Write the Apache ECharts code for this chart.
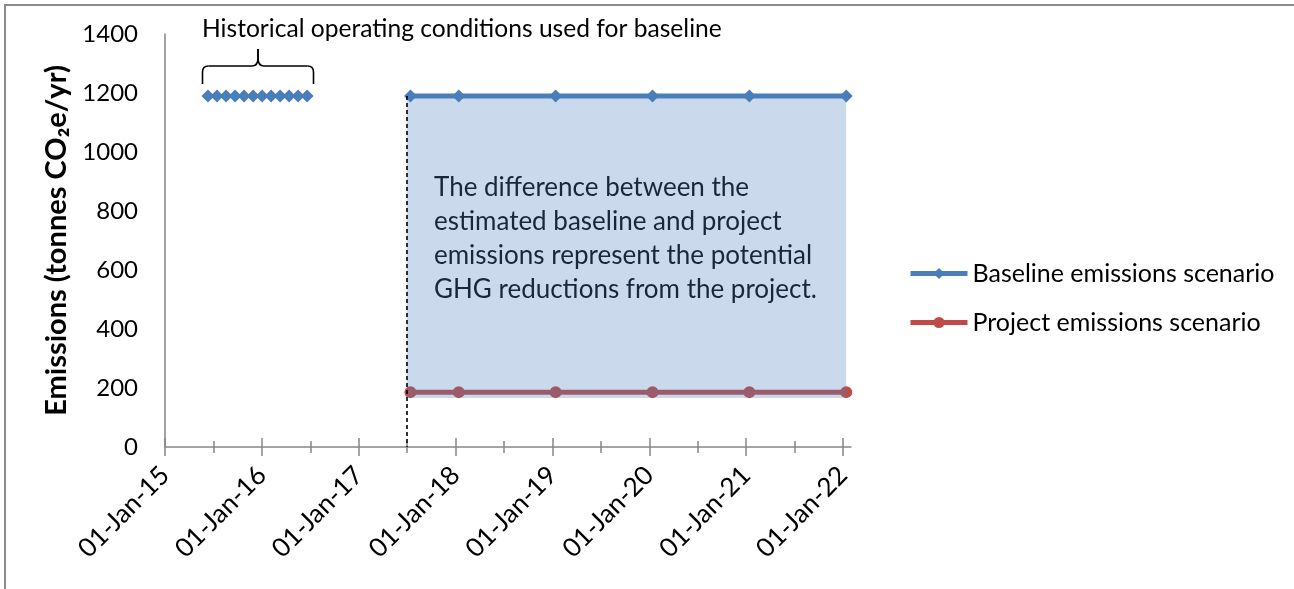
<!DOCTYPE html>
<html><head><meta charset="utf-8">
<script src="https://cdn.jsdelivr.net/npm/echarts@6/dist/echarts.min.js"></script>
<style>html,body{margin:0;padding:0;background:#fff;overflow:hidden}#c{width:1294px;height:589px}</style>
</head><body><div id="c"></div>
<script>
// ---- data ----
const xTickYears = [2015, 2016, 2017, 2018, 2019, 2020, 2021, 2022];
const xTickLabels = ['01-Jan-15', '01-Jan-16', '01-Jan-17', '01-Jan-18', '01-Jan-19', '01-Jan-20', '01-Jan-21', '01-Jan-22'];
const xMinorYears = [2015.5, 2016.5, 2017.5, 2018.5, 2019.5, 2020.5, 2021.5];
const xAxisEndDate = '2022-01-31';
const yTicks = [0, 200, 400, 600, 800, 1000, 1200, 1400];

const historicalDates = ['2015-06-12', '2015-07-16', '2015-08-19', '2015-09-22', '2015-10-26', '2015-11-29',
  '2016-01-02', '2016-02-05', '2016-03-10', '2016-04-13', '2016-05-17', '2016-06-20'];
const historicalValues = [1190, 1190, 1190, 1190, 1190, 1190, 1190, 1190, 1190, 1190, 1190, 1190];

const scenarioDates = ['2017-07-15', '2018-01-13', '2019-01-13', '2020-01-13', '2021-01-13', '2022-01-13'];
const baselineValues = [1190, 1190, 1190, 1190, 1190, 1190];
const projectValues = [186, 186, 186, 186, 186, 186];
const projectStartDate = '2017-07-01';
const reductionFloor = 166;

const seriesNames = ['Baseline emissions scenario', 'Project emissions scenario'];
const yAxisName = 'Emissions (tonnes CO₂e/yr)';
const historicalNote = 'Historical operating conditions used for baseline';
const differenceNote = 'The difference between the\nestimated baseline and project\nemissions represent the potential\nGHG reductions from the project.';

// ---- helpers ----
function toYear(s) {
  const d = new Date(s + 'T00:00:00Z');
  const y = d.getUTCFullYear();
  const start = Date.UTC(y, 0, 1), end = Date.UTC(y + 1, 0, 1);
  return y + (d.getTime() - start) / (end - start);
}
const FONT = 'Lato';
const AXIS_COLOR = '#868686';
const BLUE = '#4a7ebb';
const RED = '#be4b48';

const xMin = xTickYears[0];
const xMax = toYear(xAxisEndDate);

function tickAxis(values, inside, len, showLine, showLabel) {
  return {
    type: 'value', position: 'bottom', min: xMin, max: xMax, gridIndex: 0,
    axisLine: { show: showLine, onZero: false, lineStyle: { color: AXIS_COLOR, width: 1.5 } },
    axisTick: { show: true, inside: inside, length: len, customValues: values, lineStyle: { color: AXIS_COLOR, width: 1.5 } },
    axisLabel: showLabel ? {
      show: true, customValues: xTickYears, rotate: 45, margin: 24, fontSize: 26, fontFamily: FONT, color: '#000',
      formatter: v => { const i = xTickYears.indexOf(Math.round(v)); return i >= 0 ? xTickLabels[i] : ''; }
    } : { show: false },
    splitLine: { show: false }
  };
}

const braceStyle = { fill: 'none', stroke: '#000', lineWidth: 1.6 };
function braceHalf(dir) {
  const cx = 258, ex = cx + dir * 55.5;
  return [
    { type: 'polyline', shape: { points: [[ex, 84], [ex, 72]] }, style: braceStyle },
    { type: 'bezierCurve', shape: { x1: ex, y1: 72, cpx1: ex, cpy1: 66, x2: ex - dir * 6, y2: 66 }, style: braceStyle },
    { type: 'polyline', shape: { points: [[ex - dir * 6, 66], [cx + dir * 6, 66]] }, style: braceStyle },
    { type: 'bezierCurve', shape: { x1: cx + dir * 6, y1: 66, cpx1: cx, cpy1: 66, x2: cx, y2: 58 }, style: braceStyle },
    { type: 'polyline', shape: { points: [[cx, 58], [cx, 49]] }, style: braceStyle }
  ];
}

const chart = echarts.init(document.getElementById('c'), null, { renderer: 'canvas' });
const option = {
  animation: false,
  backgroundColor: '#fff',
  grid: { left: 165, top: 34, right: 1294 - 851, bottom: 589 - 447, containLabel: false },
  xAxis: [
    tickAxis(xTickYears, false, 9, true, true),
    tickAxis(xTickYears, true, 9, false, false),
    tickAxis(xMinorYears, false, 6, false, false),
    tickAxis(xMinorYears, true, 6, false, false)
  ],
  yAxis: {
    type: 'value', min: yTicks[0], max: yTicks[yTicks.length - 1], interval: 200,
    axisLine: { show: true, lineStyle: { color: AXIS_COLOR, width: 1.5 } },
    axisTick: { show: false },
    splitLine: { show: false },
    axisLabel: { fontSize: 24, fontFamily: FONT, color: '#000', margin: 27, formatter: v => String(v) },
    name: yAxisName, nameLocation: 'middle', nameGap: 93, nameRotate: 90,
    nameTextStyle: { fontSize: 29, fontWeight: 'bold', fontFamily: FONT, color: '#000' }
  },
  legend: {
    data: seriesNames, orient: 'vertical', left: 908, top: 261, padding: 0,
    itemWidth: 57, itemHeight: 14, itemGap: 24,
    lineStyle: { width: 5 },
    textStyle: { fontSize: 25, fontFamily: FONT, color: '#000' }
  },
  series: [
    {
      name: 'Historical', type: 'line', xAxisIndex: 0, z: 4,
      data: historicalDates.map((d, i) => [toYear(d), historicalValues[i]]),
      symbol: 'diamond', symbolSize: 13, showSymbol: true,
      lineStyle: { color: BLUE, width: 3 }, itemStyle: { color: BLUE }
    },
    {
      name: seriesNames[1], type: 'line', xAxisIndex: 0, z: 2, clip: false,
      data: scenarioDates.map((d, i) => [toYear(d), projectValues[i]]),
      symbol: 'circle', symbolSize: 12,
      lineStyle: { color: RED, width: 5 }, itemStyle: { color: RED }
    },
    {
      name: 'Reduction', type: 'line', xAxisIndex: 0, z: 3, clip: false, silent: true,
      data: [[toYear(projectStartDate), baselineValues[0]], [toYear(scenarioDates[scenarioDates.length - 1]), baselineValues[baselineValues.length - 1]]],
      showSymbol: false, symbol: 'none',
      lineStyle: { width: 0, opacity: 0 },
      areaStyle: { color: 'rgba(79,129,189,0.3)', origin: reductionFloor, opacity: 1 },
      markLine: {
        silent: true, symbol: ['none', 'none'], label: { show: false },
        lineStyle: { color: '#000', type: [4, 3], width: 1.6 },
        data: [[{ coord: [toYear(projectStartDate), baselineValues[0]] }, { coord: [toYear(projectStartDate), yTicks[0]] }]]
      }
    },
    {
      name: seriesNames[0], type: 'line', xAxisIndex: 0, z: 4, clip: false,
      data: scenarioDates.map((d, i) => [toYear(d), baselineValues[i]]),
      symbol: 'diamond', symbolSize: 13,
      lineStyle: { color: BLUE, width: 5 }, itemStyle: { color: BLUE }
    }
  ],
  graphic: [
    { type: 'rect', shape: { x: 5, y: 5, width: 1400, height: 700 }, style: { fill: 'none', stroke: '#8a8a8a', lineWidth: 2 }, silent: true },
    { type: 'text', left: 202, top: 17, style: { text: historicalNote, fontSize: 24.6, fontFamily: FONT, fill: '#000' } },
    { type: 'group', silent: true, children: braceHalf(-1).concat(braceHalf(1)) },
    { type: 'text', left: 434, top: 171, style: { text: differenceNote, fontSize: 26, lineHeight: 34, fontFamily: FONT, fill: '#000' } }
  ]
};
chart.setOption(option);
</script></body></html>
